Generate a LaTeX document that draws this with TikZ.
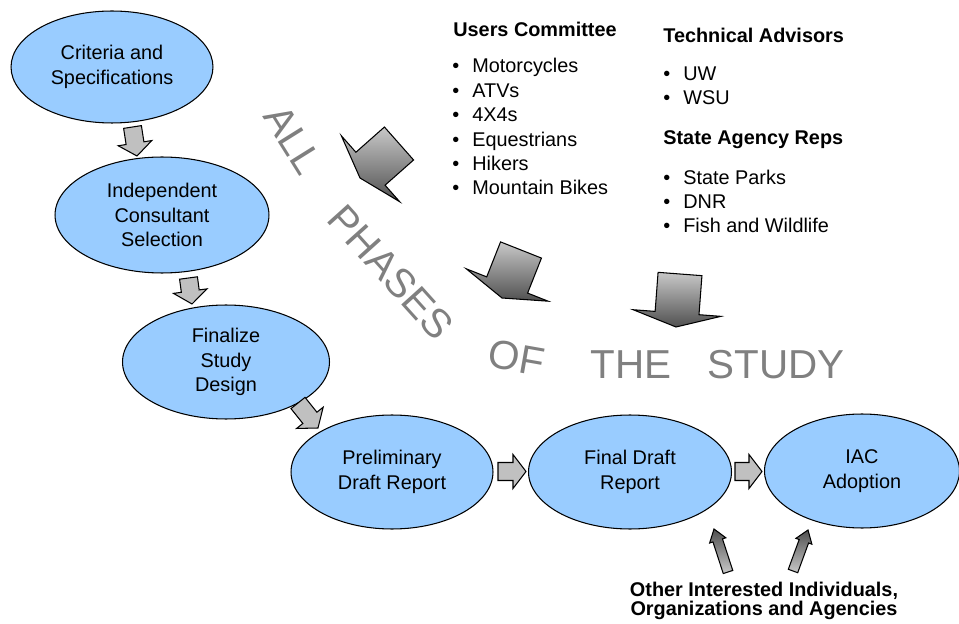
\documentclass[tikz,border=0pt]{standalone}
\usepackage{fontspec}
\setmainfont{Liberation Sans}
\usetikzlibrary{shapes.geometric,calc}

\definecolor{phasefill}{HTML}{99CCFF}
\definecolor{stepgray}{HTML}{C0C0C0}
\definecolor{wordgray}{HTML}{808080}
\definecolor{shadelight}{HTML}{C8C8C8}
\definecolor{shadedark}{HTML}{505050}

\newcommand\itm[1]{\makebox[0.4cm][l]{\textbullet}#1}

\tikzset{
  arshaft/.store in=\arshaft, arbarb/.store in=\arbarb, arhead/.store in=\arhead,
  phase/.style = {ellipse, draw=black, fill=phasefill, line width=0.6pt,
    inner sep=0pt, align=center, font=\fontsize{11.3}{13.9}\selectfont},
  % block arrow drawn from its back end to its tip
  blockarrow/.style = {draw=black, line width=0.6pt, line join=miter,
    to path={
      ($(\tikztostart)!\arshaft!90:(\tikztotarget)$)
      -- ($(\tikztotarget)!\arhead!(\tikztostart)!\arshaft!-90:(\tikztostart)$)
      -- ($(\tikztotarget)!\arhead!(\tikztostart)!\arbarb!-90:(\tikztostart)$)
      -- (\tikztotarget)
      -- ($(\tikztotarget)!\arhead!(\tikztostart)!\arbarb!90:(\tikztostart)$)
      -- ($(\tikztotarget)!\arhead!(\tikztostart)!\arshaft!90:(\tikztostart)$)
      -- ($(\tikztostart)!\arshaft!-90:(\tikztotarget)$)
      -- cycle}},
  steparrow/.style = {blockarrow, fill=stepgray,
    arshaft=0.18cm, arbarb=0.34cm, arhead=0.26cm},
  inputarrow/.style = {blockarrow, top color=shadelight, bottom color=shadedark,
    arshaft=0.44cm, arbarb=0.88cm, arhead=0.28cm},
  commentarrow/.style = {blockarrow, top color=shadedark, bottom color=shadelight,
    arshaft=0.1cm, arbarb=0.17cm, arhead=0.24cm},
  heading/.style = {anchor=base west, inner sep=0pt,
    font=\fontsize{11.3}{13.9}\selectfont\bfseries},
  % lists are placed by the baseline of their last line
  listing/.style = {anchor=base west, inner sep=0pt, align=left,
    font=\fontsize{11.3}{13.9}\selectfont},
  bigword/.style = {inner sep=0pt, text=wordgray, font=\fontsize{23}{23}\selectfont}
}

\begin{document}
\begin{tikzpicture}[x=0.02cm, y=-0.02cm]
\useasboundingbox (0,0) rectangle (959,624);

% the study steps
\node[phase, minimum width=4.04cm, minimum height=2.24cm] (crit) at (112,67)
  {Criteria and\\Specifications};
\node[phase, minimum width=4.28cm, minimum height=2.32cm] (consult) at (162,215)
  {Independent\\Consultant\\Selection};
\node[phase, minimum width=4.14cm, minimum height=2.28cm] (design) at (226,362)
  {Finalize\\Study\\Design};
\node[phase, minimum width=4.04cm, minimum height=2.28cm] (prelim) at (392,472)
  {Preliminary\\Draft Report};
\node[phase, minimum width=4.06cm, minimum height=2.28cm] (final) at (630,472)
  {Final Draft\\Report};
\node[phase, minimum width=3.90cm, minimum height=2.28cm] (iac) at (862,471)
  {IAC\\Adoption};

% arrows between the steps
\coordinate (s1a) at (132.5,127); \coordinate (s1b) at (137,156);
\coordinate (s2a) at (188.5,278); \coordinate (s2b) at (192,304);
\coordinate (s3a) at (298,403);   \coordinate (s3b) at (318,428);
\coordinate (s4a) at (498,471.5); \coordinate (s4b) at (526,471.5);
\coordinate (s5a) at (735,471.5); \coordinate (s5b) at (762,471.5);
\path[steparrow] (s1a) to (s1b);
\path[steparrow] (s2a) to (s2b);
\path[steparrow] (s3a) to (s3b);
\path[steparrow] (s4a) to (s4b);
\path[steparrow] (s5a) to (s5b);

% groups feeding in
\node[heading] (users) at (453,37) {Users Committee};
\node[listing] (userlist) at (452,195) {\itm{Motorcycles}\\\itm{ATVs}\\\itm{4X4s}\\
  \itm{Equestrians}\\\itm{Hikers}\\\itm{Mountain Bikes}};
\node[heading] (tech) at (663,43) {Technical Advisors};
\node[listing] (techlist) at (663,105) {\itm{UW}\\\itm{WSU}};
\node[heading] (agency) at (663,145) {State Agency Reps};
\node[listing] (agencylist) at (663,233) {\itm{State Parks}\\\itm{DNR}\\\itm{Fish and Wildlife}};

\coordinate (i1a) at (399,143.5); \coordinate (i1b) at (360,178);
\coordinate (i2a) at (521,250);   \coordinate (i2b) at (502,298);
\coordinate (i3a) at (680,274);   \coordinate (i3b) at (676,327);
\path[inputarrow] (i1a) to (i1b);
\path[inputarrow] (i2a) to (i2b);
\path[inputarrow] (i3a) to (i3b);

% the big gray words
\node[bigword, rotate=-58] (w1) at (293,140) {ALL};
\node[bigword, rotate=-48] (w2) at (391,272) {PHASES};
\node[bigword, rotate=-10] (w3) at (517,358) {OF};
\node[bigword, anchor=base west] (w4) at (590,378) {THE};
\node[bigword, anchor=base west] (w5) at (707,378) {STUDY};

% public comment
\node[inner sep=0pt, anchor=base, align=center,
  font=\fontsize{11.3}{10.5}\selectfont\bfseries] (others) at (764,615)
  {Other Interested Individuals,\\Organizations and Agencies};
\coordinate (c1a) at (728,572); \coordinate (c1b) at (714,529);
\coordinate (c2a) at (793,571); \coordinate (c2b) at (808,530);
\path[commentarrow] (c1a) to (c1b);
\path[commentarrow] (c2a) to (c2b);
\end{tikzpicture}
\end{document}
